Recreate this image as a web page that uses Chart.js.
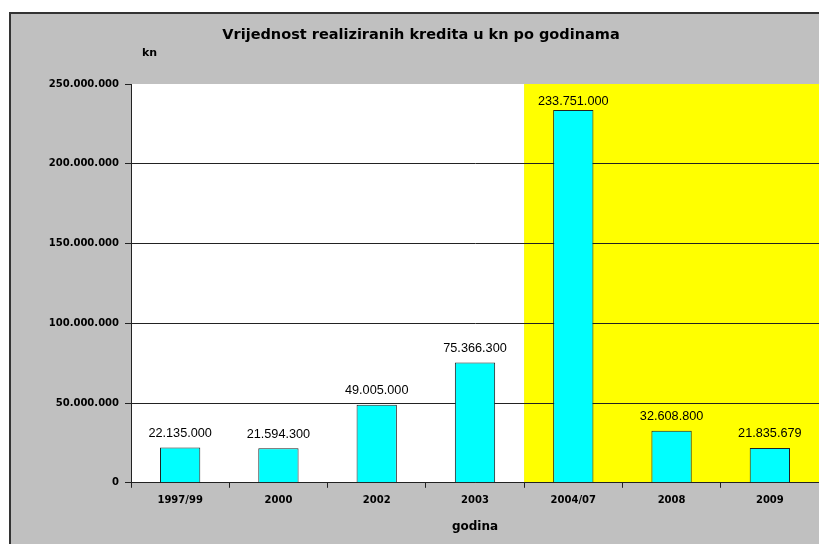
<!DOCTYPE html>
<html>
<head>
<meta charset="utf-8">
<script src="https://cdn.jsdelivr.net/npm/chart.js@4"></script>
<style>
  html, body { margin: 0; padding: 0; background: #ffffff; }
  #wrap { width: 819px; height: 544px; }
</style>
</head>
<body>
<div id="wrap"><canvas id="chart-credits" width="819" height="544"></canvas></div>
<script>
const godine = ['1997/99', '2000', '2002', '2003', '2004/07', '2008', '2009'];
const krediti = [22135000, 21594300, 49005000, 75366300, 233751000, 32608800, 21835679];
const yMax = 250000000;
const yStep = 50000000;
const highlightFrom = 4; // od 2004/07 zuta pozadina

function formatKn(v){
  return String(Math.round(v)).replace(/\B(?=(\d{3})+(?!\d))/g, '.');
}

// pozadina: siva ploca + bijelo/zuto podrucje grafa
const backgroundPlugin = {
  id: 'background',
  beforeDraw(chart) {
    const ctx = chart.ctx;
    const area = chart.chartArea;
    const x = chart.scales.x;
    ctx.save();
    ctx.fillStyle = '#ffffff';
    ctx.fillRect(0, 0, chart.width, chart.height);
    ctx.fillStyle = '#c0c0c0';
    ctx.fillRect(9, 12, chart.width - 9, chart.height - 12);
    ctx.strokeStyle = '#333333';
    ctx.lineWidth = 2;
    ctx.beginPath();
    ctx.moveTo(10, chart.height);
    ctx.lineTo(10, 13);
    ctx.lineTo(chart.width, 13);
    ctx.stroke();
    const split = (x.getPixelForValue(highlightFrom - 1) + x.getPixelForValue(highlightFrom)) / 2;
    ctx.fillStyle = '#ffffff';
    ctx.fillRect(area.left, area.top, split - area.left, area.bottom - area.top);
    ctx.fillStyle = '#ffff00';
    ctx.fillRect(split, area.top, area.right - split, area.bottom - area.top);
    ctx.restore();
  }
};

// vrijednosti iznad stupaca + oznaka "kn"
const labelsPlugin = {
  id: 'valueLabels',
  afterDatasetsDraw(chart) {
    const ctx = chart.ctx;
    const area = chart.chartArea;
    const meta = chart.getDatasetMeta(0);
    ctx.save();
    ctx.fillStyle = '#000000';
    ctx.font = '12.7px "Liberation Sans", Arial, sans-serif';
    ctx.textAlign = 'center';
    ctx.textBaseline = 'alphabetic';
    meta.data.forEach((bar, i) => {
      const y = Math.max(bar.y - 10.5, area.top + 21);
      ctx.fillText(formatKn(krediti[i]), bar.x, y);
    });
    ctx.font = 'bold 11px "DejaVu Sans", sans-serif';
    ctx.textAlign = 'left';
    ctx.textBaseline = 'middle';
    ctx.fillText('kn', 142, 53);
    ctx.restore();
  }
};

const chartCredits = document.getElementById('chart-credits');

new Chart(chartCredits, {
  type: 'bar',
  data: {
    labels: godine,
    datasets: [{
      data: krediti,
      backgroundColor: '#00ffff',
      borderColor: '#222222',
      borderWidth: 1,
      categoryPercentage: 1,
      barPercentage: 0.41
    }]
  },
  options: {
    responsive: false,
    animation: false,
    devicePixelRatio: 1,
    layout: {
      padding: { left: 23, right: 0, top: 0, bottom: 6 }
    },
    plugins: {
      legend: { display: false },
      tooltip: { enabled: false },
      title: {
        display: true,
        text: 'Vrijednost realiziranih kredita u kn po godinama',
        color: '#000000',
        font: { family: 'DejaVu Sans', size: 14.5, weight: 'bold' },
        padding: { top: 27, bottom: 39.6 }
      }
    },
    scales: {
      y: {
        min: 0,
        max: yMax,
        afterFit: (scale) => { scale.width = 108; },
        ticks: {
          stepSize: yStep,
          padding: 6,
          color: '#000000',
          font: { family: 'DejaVu Sans', size: 10, weight: 'bold' },
          callback: (v) => formatKn(v)
        },
        grid: {
          color: (c) => (c.tick && c.tick.value === yMax) ? 'rgba(0,0,0,0)' : '#222222',
          tickColor: '#222222',
          tickLength: 6
        },
        border: { color: '#222222', width: 1 }
      },
      x: {
        ticks: {
          padding: 7,
          color: '#000000',
          font: { family: 'DejaVu Sans', size: 10, weight: 'bold' }
        },
        grid: {
          drawOnChartArea: false,
          tickColor: '#222222',
          tickLength: 5
        },
        border: { color: '#222222', width: 1 },
        title: {
          display: true,
          text: 'godina',
          color: '#000000',
          font: { family: 'DejaVu Sans', size: 12, weight: 'bold' },
          padding: { top: 5.8, bottom: 4 }
        }
      }
    }
  },
  plugins: [backgroundPlugin, labelsPlugin]
});
</script>
</body>
</html>
